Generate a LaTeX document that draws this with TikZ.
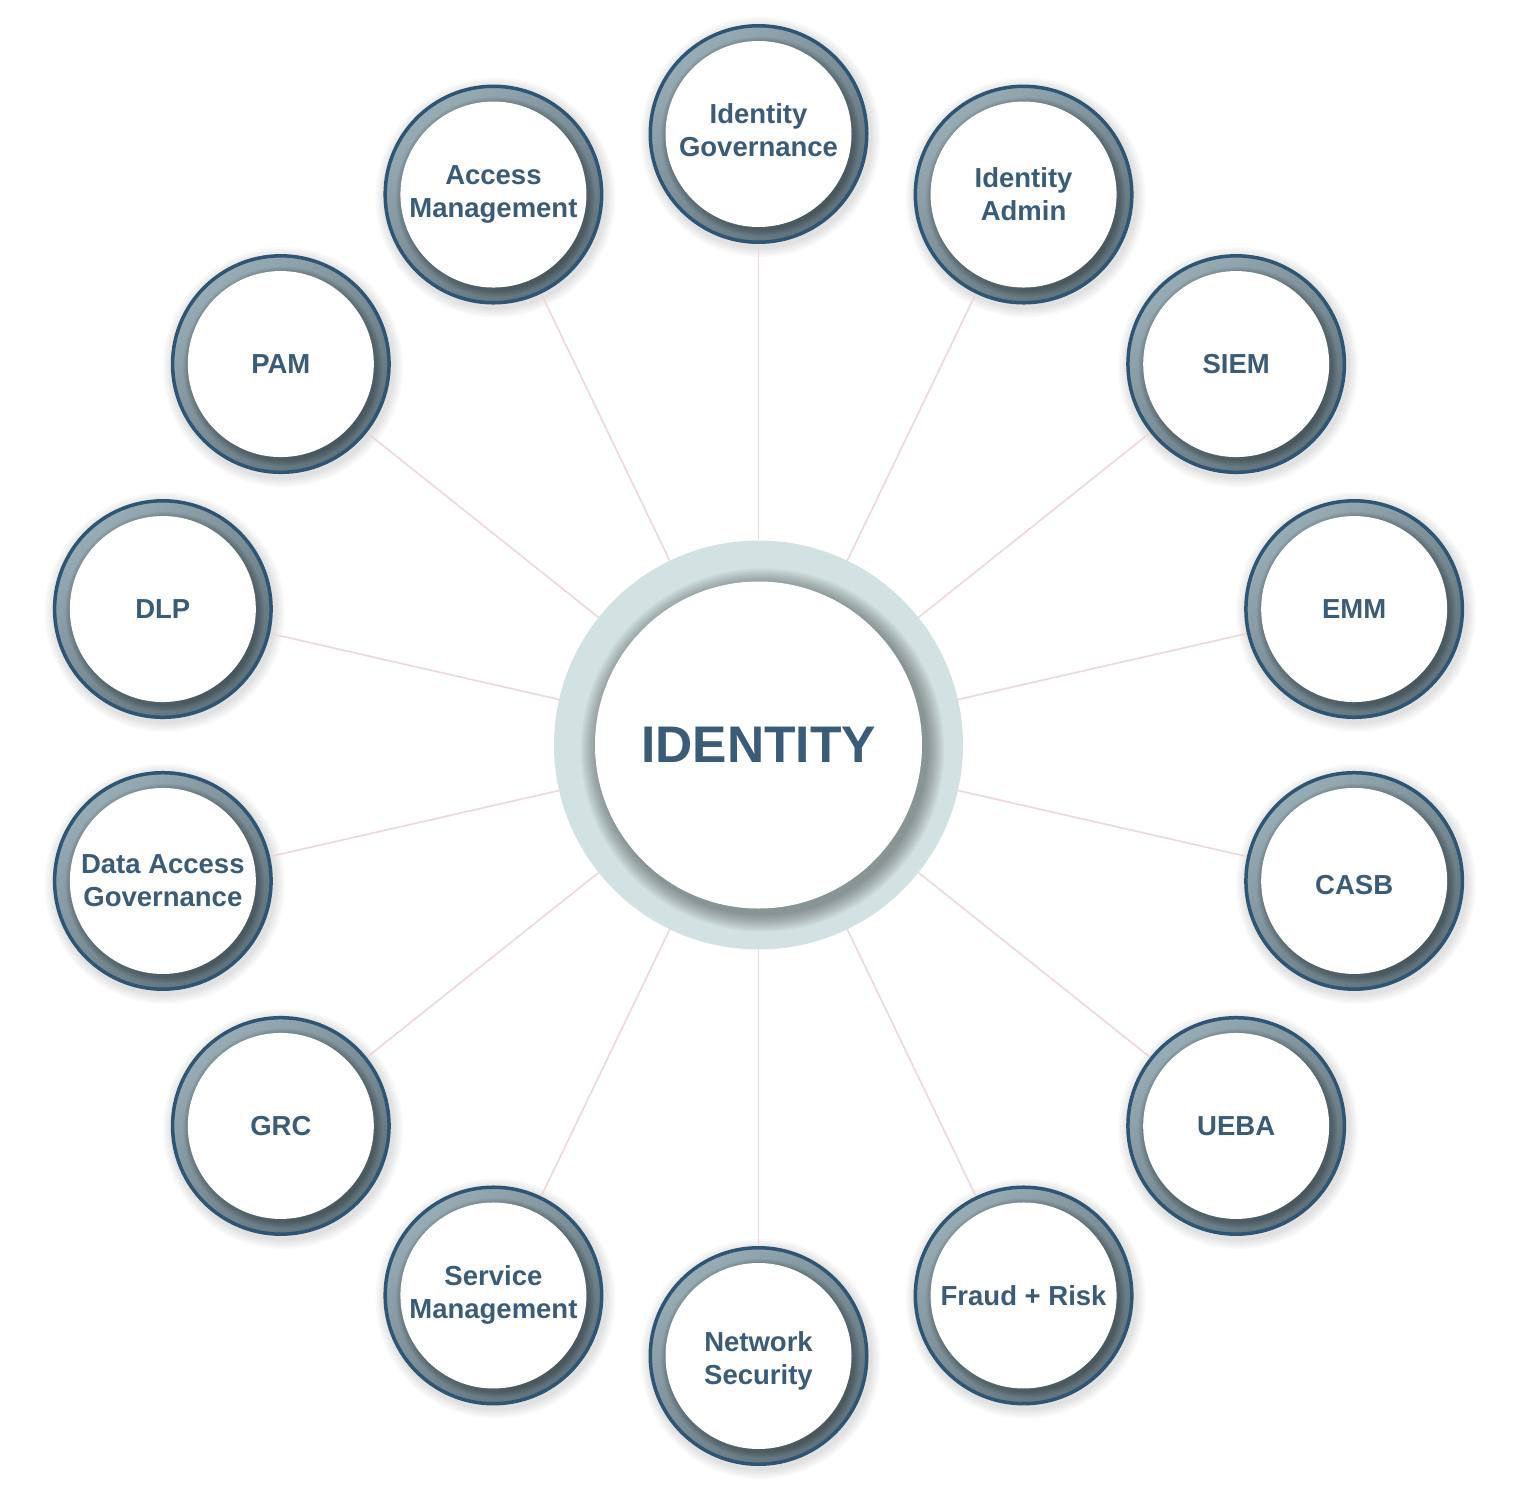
\documentclass[tikz,border=0pt]{standalone}
\usepackage{fontspec}
\setmainfont{Liberation Sans}
\usetikzlibrary{backgrounds}
\definecolor{txt}{HTML}{3A5C78}
\definecolor{edgec}{HTML}{2E5573}
\definecolor{ringA}{HTML}{98ACB5}
\definecolor{ringB}{HTML}{5F717A}
\definecolor{core}{HTML}{D2E1E1}
\definecolor{linkc}{HTML}{F0D6DB}
\tikzset{
  satnode/.style={circle, minimum size=216.5pt, inner sep=0pt, draw=edgec, line width=3.5pt,
    top color=ringA, bottom color=ringB, shading angle=40,
    path picture={
      \foreach \k in {1,...,5}
        \fill[black,opacity=0.05] ([shift={(2pt,-2.5pt)}]path picture bounding box.center) circle[radius={93pt+\k*1.3pt}];
      \fill[white] (path picture bounding box.center) circle[radius=93pt];
    }},
  sattext/.style={text=txt, align=center, inner sep=0pt, font=\fontsize{27.5}{33}\selectfont\bfseries},
  corenode/.style={circle, minimum size=409pt, inner sep=0pt, fill=core, text=txt,
    font=\fontsize{51.5}{60}\selectfont\bfseries,
    path picture={
      \foreach \k in {1,...,9}
        \fill[black,opacity=0.045] ([shift={(4pt,-5pt)}]path picture bounding box.center) circle[radius={163.5pt+\k*2pt}];
      \fill[white] (path picture bounding box.center) circle[radius=163.5pt];
    }},
  linkline/.style={draw=linkc, line width=1.6pt},
  satshadow/.style={fill=black, opacity=0.025}
}
\begin{document}
\begin{tikzpicture}[x=1pt,y=-1pt]
\useasboundingbox (0,0) rectangle (1515,1498);
\node[corenode] (c) at (758.5,745) {IDENTITY};
\foreach \i/\dy/\t in {0/4/{Identity\\Governance},1/0/{Identity\\Admin},2/0/SIEM,3/0/EMM,4/-4/CASB,5/0/UEBA,6/0/{Fraud + Risk},7/-5/{Network\\Security},8/1/{Service\\Management},9/0/GRC,10/0/{Data Access\\Governance},11/0/DLP,12/0/PAM,13/0/{Access\\Management}}{
  \pgfmathsetmacro\ang{90-\i*360/14}
  \node[satnode] (s\i) at ({758.5+611*cos(\ang)},{745-611*sin(\ang)}) {};
  \node[sattext] (t\i) at ([yshift=\dy pt]s\i.center) {\t};
}
\begin{scope}[on background layer]
  \fill[white] (0,0) rectangle (1515,1498);
  \foreach \i in {0,...,13}{
    \foreach \k in {1,...,5}
      \fill[satshadow] ([shift={(2pt,-3pt)}]s\i.center) circle[radius={110pt+\k*2pt}];
    \draw[linkline] (c) -- (s\i);
  }
\end{scope}
\end{tikzpicture}
\end{document}
